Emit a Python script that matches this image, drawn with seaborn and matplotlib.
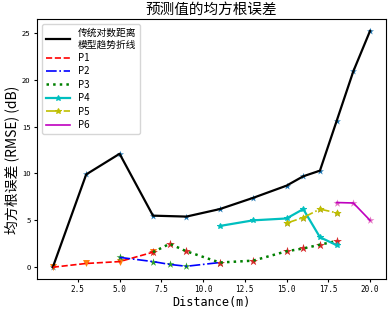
import numpy as np
import seaborn as sns
import matplotlib.pyplot as plt

plt.rcParams['font.family'] = ['Noto Sans CJK SC', 'DejaVu Sans']
plt.rcParams['axes.unicode_minus'] = False

# data
base_x = [1, 3, 5, 7, 9, 11, 13, 15, 16, 17, 18, 19, 20]
base_y = [0.0, 9.9, 12.1, 5.5, 5.4, 6.2, 7.4, 8.7, 9.7, 10.3, 15.6, 20.9, 25.2]

p1_x = [1, 3, 5, 7]
p1_y = [0.0, 0.4, 0.6, 1.6]

p2_x = [5, 7, 8, 9, 11]
p2_y = [1.05, 0.6, 0.3, 0.1, 0.5]

p3_x = [7, 8, 9, 11, 13, 15, 16, 17, 18]
p3_y = [1.6, 2.5, 1.7, 0.5, 0.7, 1.7, 2.0, 2.4, 2.8]

p4_x = [11, 13, 15, 16, 17, 18]
p4_y = [4.4, 5.0, 5.2, 6.2, 3.2, 2.35]

p5_x = [15, 16, 17, 18]
p5_y = [4.7, 5.3, 6.2, 5.8]

p6_x = [18, 19, 20]
p6_y = [6.9, 6.85, 5.0]

fig, ax = plt.subplots(figsize=(3.89, 3.09), dpi=100)

# marker layers (not in legend)
sns.scatterplot(x=base_x, y=base_y, marker='*', color='C0', s=28, linewidth=0, ax=ax, zorder=1)
sns.scatterplot(x=p1_x, y=p1_y, marker='v', color='C1', s=25, linewidth=0, ax=ax, zorder=1)
sns.scatterplot(x=p2_x, y=p2_y, marker='*', color='C2', s=35, linewidth=0, ax=ax, zorder=1)
sns.scatterplot(x=p3_x, y=p3_y, marker='*', color='C3', s=45, linewidth=0, ax=ax, zorder=1)
sns.scatterplot(x=p5_x, y=p5_y, marker='*', color='#a08a3a', s=40, linewidth=0, ax=ax, zorder=1)
sns.scatterplot(x=p6_x, y=p6_y, marker='*', color='C6', s=35, linewidth=0, ax=ax, zorder=1)

# lines
sns.lineplot(x=base_x, y=base_y, color='black', lw=1.6, ax=ax, label='传统对数距离\n模型趋势折线', zorder=2)
sns.lineplot(x=p1_x, y=p1_y, color='red', ls='--', lw=1.2, ax=ax, label='P1', zorder=2)
sns.lineplot(x=p2_x, y=p2_y, color='blue', ls='-.', lw=1.2, ax=ax, label='P2', zorder=2)
sns.lineplot(x=p3_x, y=p3_y, color='green', ls=':', lw=1.8, ax=ax, label='P3', zorder=2)
sns.lineplot(x=p4_x, y=p4_y, color='c', ls='-', lw=1.6, marker='*', ms=4, mec='c', ax=ax, label='P4', zorder=2)
sns.lineplot(x=p5_x, y=p5_y, color='y', ls='-.', lw=1.2, marker='*', ms=4, mec='y', ax=ax, label='P5', zorder=2)
sns.lineplot(x=p6_x, y=p6_y, color='m', ls='-', lw=1.2, ax=ax, label='P6', zorder=2)

ax.set_title('预测值的均方根误差', fontsize=10.5, pad=4)
ax.set_ylabel('均方根误差 (RMSE) (dB)', fontsize=10)
ax.yaxis.set_label_coords(-0.05, 0.46)
ax.set_xlabel('Distance(m)', fontsize=8.5, family='DejaVu Sans Mono', labelpad=1)
ax.tick_params(labelsize=5.5, length=2.5, pad=2)
for t in ax.get_xticklabels():
    t.set_family('DejaVu Sans Mono')
ax.legend(loc='upper left', fontsize=7, handlelength=2.5, labelspacing=0.35,
          borderpad=0.4, handletextpad=0.8)

fig.subplots_adjust(left=0.095, right=0.992, top=0.938, bottom=0.097)
fig.savefig('out.png', dpi=100)
